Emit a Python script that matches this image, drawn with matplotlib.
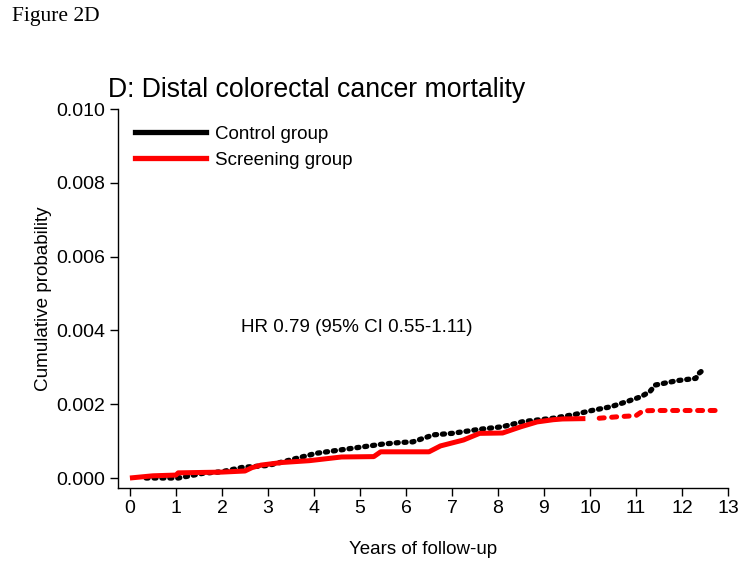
import matplotlib
matplotlib.use('Agg')
import matplotlib.pyplot as plt
from matplotlib.lines import Line2D

plt.rcParams['font.family'] = ['Liberation Sans', 'DejaVu Sans']

# cumulative probability (years, probability)
control_t = [0.35, 1.05, 1.6, 2.0, 2.45, 3.0, 3.33, 4.05, 4.8, 5.5, 5.85, 6.15, 6.6, 7.0,
             7.6, 8.1, 8.55, 9.2, 9.7, 10.0, 10.45, 10.8, 11.1, 11.3, 11.42, 11.9, 12.3,
             12.35, 12.45]
control_p = [0.0, 0.0, 0.00013, 0.00017, 0.00029, 0.00034, 0.00044, 0.00067, 0.0008, 0.00092,
             0.00096, 0.00098, 0.00117, 0.00121, 0.00132, 0.00139, 0.00153, 0.00162, 0.00173,
             0.00182, 0.00193, 0.00207, 0.0022, 0.00234, 0.00252, 0.00264, 0.0027, 0.00282,
             0.00292]

screen_t = [0, 0.5, 1.0, 1.05, 2.0, 2.5, 2.65, 2.85, 3.3, 3.9, 4.6, 5.3, 5.45, 6.5, 6.75,
            7.25, 7.6, 8.1, 8.5, 8.85, 9.2, 9.4, 9.9]
screen_p = [0, 0.00006, 0.00008, 0.00014, 0.00016, 0.00019, 0.00028, 0.00035, 0.00042,
            0.00047, 0.00057, 0.00058, 0.00071, 0.00071, 0.00087, 0.00103, 0.00121, 0.00122,
            0.00139, 0.00152, 0.00158, 0.0016, 0.00161]
# sparse tail of the screening curve
screen_tail_t = [10.2, 10.6, 11.0, 11.15, 11.4, 12.85]
screen_tail_p = [0.00162, 0.00166, 0.00169, 0.00182, 0.00183, 0.00183]

xticks = list(range(0, 14))
yticks = [0.000, 0.002, 0.004, 0.006, 0.008, 0.010]

fig = plt.figure(figsize=(7.49, 5.69), dpi=100)
ax = fig.add_axes([0.1575, 0.1424, 0.8145, 0.666])

ax.plot(control_t, control_p, color='black', lw=3.8, linestyle=(0, (0.4, 1.1)),
        dash_capstyle='round', zorder=2)
ax.plot(screen_t, screen_p, color='#ff0000', lw=3.6, solid_capstyle='butt', zorder=3)
ax.plot(screen_tail_t, screen_tail_p, color='#ff0000', lw=3.6, linestyle=(0, (1.0, 1.5)),
        dash_capstyle='round', zorder=3)

ax.set_xlim(-0.26, 13)
ax.set_ylim(-0.00027, 0.01)
ax.set_xticks(xticks)
ax.set_yticks(yticks)
ax.set_yticklabels([f'{v:.3f}' for v in yticks])
ax.tick_params(direction='out', length=6, width=1, labelsize=14, pad=3)
for s in ['top', 'right']:
    ax.spines[s].set_visible(False)
ax.spines['left'].set_linewidth(1)
ax.spines['bottom'].set_linewidth(1)

ax.set_xlabel('Years of follow-up', fontsize=13.5, labelpad=17)
ax.set_ylabel('Cumulative probability', fontsize=13.6, labelpad=3)

ax.text(4.93, 0.00409, 'HR 0.79 (95% CI 0.55-1.11)', fontsize=13.5, ha='center', va='center')

handles = [Line2D([], [], color='black', lw=3.8), Line2D([], [], color='#ff0000', lw=3.8)]
ax.legend(handles, ['Control group', 'Screening group'], loc='upper left', frameon=False,
          fontsize=13.5, handlelength=3.8, handletextpad=0.5, labelspacing=0.45,
          bbox_to_anchor=(0.0, 1.0), borderaxespad=0.5)

fig.text(108 / 749, 1 - 90 / 569, 'D: Distal colorectal cancer mortality', fontsize=19.2,
         ha='left', va='center')
fig.text(12 / 749, 1 - 16 / 569, 'Figure 2D', fontsize=15.5, ha='left', va='center',
         family=['Liberation Serif', 'DejaVu Serif'])

fig.savefig('out.png', dpi=100)
